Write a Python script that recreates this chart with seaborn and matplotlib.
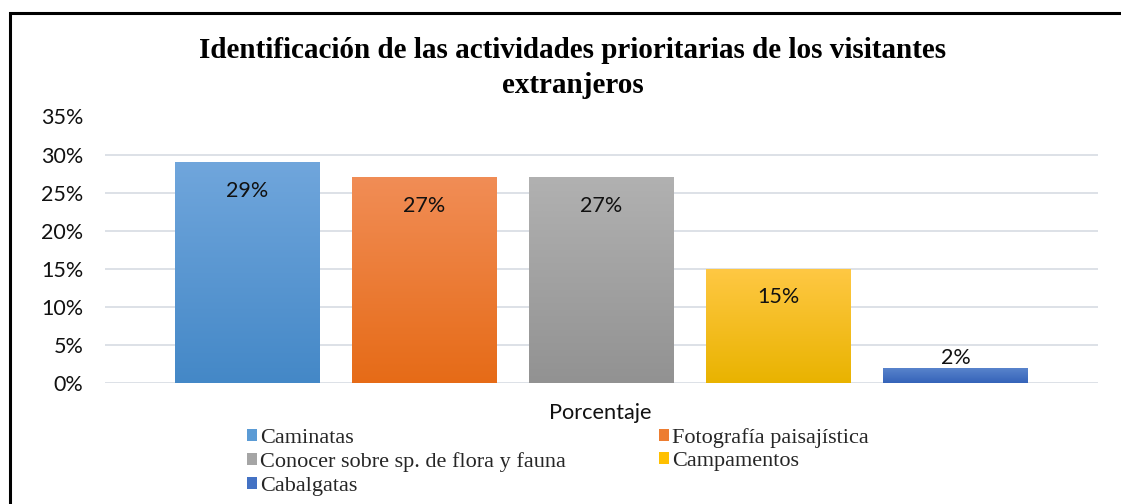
import matplotlib
matplotlib.use("Agg")
import matplotlib.pyplot as plt
import numpy as np
import pandas as pd
import seaborn as sns
from matplotlib.patches import Patch, Rectangle
from matplotlib.colors import LinearSegmentedColormap
from matplotlib.ticker import MultipleLocator, FuncFormatter

# Data
actividades = ["Caminatas", "Fotografía paisajística",
               "Conocer sobre sp. de flora y fauna", "Campamentos", "Cabalgatas"]
porcentajes = [0.29, 0.27, 0.27, 0.15, 0.02]
etiquetas = ["29%", "27%", "27%", "15%", "2%"]
titulo = "Identificación de las actividades prioritarias de los visitantes\nextranjeros"
eje_x = "Porcentaje"

# Top / bottom shades of each bar's vertical gradient
top_colors = ["#70a6dc", "#f18d56", "#b1b1b1", "#ffc844", "#5b86cd"]
bottom_colors = ["#4488c7", "#e66b17", "#929292", "#e9b300", "#3563b9"]
mid_colors = ["#5b9bd5", "#ed7d31", "#a5a5a5", "#ffc000", "#4472c4"]

sns.set_theme(style="white")
plt.rcParams["font.family"] = ["Lato", "DejaVu Sans"]

W, H, DPI = 1121, 504, 100
fig = plt.figure(figsize=(W / DPI, H / DPI), dpi=DPI)
fig.patch.set_facecolor("white")

ax = fig.add_axes([105 / W, 1 - 383 / H, (1098 - 105) / W, (383 - 116.5) / H])

df = pd.DataFrame({"actividad": actividades, "valor": porcentajes})
sns.barplot(data=df, x="actividad", y="valor", hue="actividad",
            palette=mid_colors, width=0.814, legend=False, ax=ax,
            saturation=1, edgecolor="none", linewidth=0)

ax.set_xlim(-0.805, 4.805)
ax.set_ylim(0, 0.35)
ax.yaxis.set_major_locator(MultipleLocator(0.05))
ax.yaxis.set_major_formatter(FuncFormatter(lambda v, p: f"{v*100:.0f}%"))
ax.tick_params(axis="y", labelsize=15.5, length=0, pad=15.5, colors="#111111")
ax.set_xticks([])
ax.set_xlabel("")
ax.set_ylabel("")
for s in ax.spines.values():
    s.set_visible(False)
ax.grid(axis="y", color="#dde1e7", linewidth=1.4)
ax.set_axisbelow(True)

# Vertical gradient fill, clipped to each bar
for patch, c_top, c_bot in zip(ax.patches, top_colors, bottom_colors):
    x0, y0 = patch.get_x(), patch.get_y()
    w, h = patch.get_width(), patch.get_height()
    cmap = LinearSegmentedColormap.from_list("g", [c_bot, c_top])
    grad = np.linspace(0, 1, 256).reshape(-1, 1)
    im = ax.imshow(grad, cmap=cmap, origin="lower", aspect="auto",
                   extent=(x0, x0 + w, y0, y0 + h), zorder=patch.get_zorder() + 0.1,
                   interpolation="bicubic")
    im.set_clip_path(patch)
ax.set_xlim(-0.805, 4.805)
ax.set_ylim(0, 0.35)

# Value labels: inside the top of tall bars, above short ones
for patch, lab in zip(ax.patches, etiquetas):
    xc = patch.get_x() + patch.get_width() / 2
    top = patch.get_height()
    if top > 0.05:
        ax.annotate(lab, (xc, top), xytext=(0, -20.5), textcoords="offset points",
                    ha="center", va="center", fontsize=15.5, color="#111111", zorder=5)
    else:
        ax.annotate(lab, (xc, top), xytext=(0, 7), textcoords="offset points",
                    ha="center", va="center", fontsize=15.5, color="#111111", zorder=5)

# Title
fig.text(573 / W, 1 - 68 / H, titulo, ha="center", va="center",
         fontsize=21, fontweight="bold", family=["Liberation Serif", "DejaVu Serif"],
         linespacing=1.38, color="black")

# Category axis title
fig.text(600 / W, 1 - 413 / H, eje_x, ha="center", va="center",
         fontsize=15.7, color="#111111")

# Legend (two columns, row-wise order)
order = [0, 2, 4, 1, 3]
handles = [Patch(facecolor=mid_colors[i], edgecolor="none") for i in order]
labels = [actividades[i] for i in order]
fig.legend(handles, labels, ncol=2, loc="upper left",
           bbox_to_anchor=(247 / W, 1 - 428 / H), frameon=False,
           prop={"family": ["Liberation Serif", "DejaVu Serif"], "size": 16.0},
           handlelength=0.46, handleheight=0.46, handletextpad=0.12,
           columnspacing=4.2, labelspacing=0.2, borderpad=0, borderaxespad=0)

# Outer frame of the chart area
fig.patches.append(Rectangle((10 / W, -0.2), 1.2, 0.2 + (1 - 13 / H),
                             transform=fig.transFigure, fill=False,
                             edgecolor="black", linewidth=2.2, clip_on=False))

fig.savefig("out.png", dpi=DPI, facecolor="white")
